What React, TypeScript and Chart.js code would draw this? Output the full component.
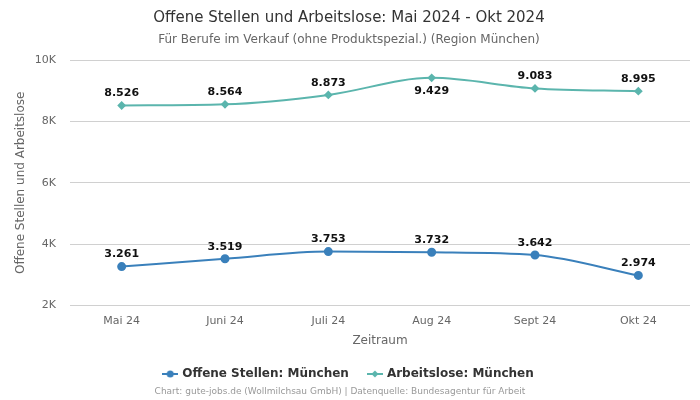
import React, { useEffect, useRef } from "react";
import { Chart, registerables } from "chart.js";

Chart.register(...registerables);

const categories = ["Mai 24", "Juni 24", "Juli 24", "Aug 24", "Sept 24", "Okt 24"];
const offeneStellen = [3261, 3519, 3753, 3732, 3642, 2974];
const arbeitslose = [8526, 8564, 8873, 9429, 9083, 8995];
const offeneLabels = ["3.261", "3.519", "3.753", "3.732", "3.642", "2.974"];
const arbeitsloseLabels = ["8.526", "8.564", "8.873", "9.429", "9.083", "8.995"];
const offeneLabelPos = ["top", "top", "top", "top", "top", "top"];
const arbeitsloseLabelPos = ["top", "top", "top", "bottom", "top", "top"];
const yTicks = [2000, 4000, 6000, 8000, 10000];

const BLUE = "#3a80bb";
const TEAL = "#5bb5ad";
const FONT = "'DejaVu Sans', sans-serif";

function legendIcon(color: string, style: string) {
  const c = document.createElement("canvas");
  c.width = 16;
  c.height = 10;
  const ctx = c.getContext("2d")!;
  ctx.strokeStyle = color;
  ctx.fillStyle = color;
  ctx.lineWidth = 2;
  ctx.beginPath();
  ctx.moveTo(0, 5);
  ctx.lineTo(16, 5);
  ctx.stroke();
  ctx.beginPath();
  if (style === "circle") {
    ctx.arc(8, 5, 3.5, 0, Math.PI * 2);
  } else {
    ctx.moveTo(8, 1.5);
    ctx.lineTo(11.5, 5);
    ctx.lineTo(8, 8.5);
    ctx.lineTo(4.5, 5);
    ctx.closePath();
  }
  ctx.fill();
  return c;
}

const labelPlugin = {
  id: "valueLabels",
  afterDatasetsDraw(chart: any) {
    const ctx = chart.ctx;
    ctx.save();
    ctx.font = `bold 11px ${FONT}`;
    ctx.fillStyle = "#111";
    ctx.textAlign = "center";
    ctx.textBaseline = "middle";
    const sets = [
      { labels: offeneLabels, pos: offeneLabelPos },
      { labels: arbeitsloseLabels, pos: arbeitsloseLabelPos },
    ];
    sets.forEach((s, di) => {
      const meta = chart.getDatasetMeta(di);
      meta.data.forEach((pt: any, i: number) => {
        const dy = s.pos[i] === "top" ? -12 : 13;
        ctx.fillText(s.labels[i], pt.x, pt.y + dy);
      });
    });
    ctx.restore();
  },
};

const footerPlugin = {
  id: "footerText",
  afterDraw(chart: any) {
    const ctx = chart.ctx;
    ctx.save();
    ctx.font = `9px ${FONT}`;
    ctx.fillStyle = "#999";
    ctx.textAlign = "center";
    ctx.textBaseline = "middle";
    ctx.fillText(
      "Chart: gute-jobs.de (Wollmilchsau GmbH) | Datenquelle: Bundesagentur für Arbeit",
      chart.width / 2 - 10,
      392
    );
    ctx.restore();
  },
};

export default function App() {
  const ref = useRef<HTMLCanvasElement>(null);
  useEffect(() => {
    document.body.style.margin = "0";
    Chart.defaults.font.family = FONT;
    const chart = new Chart(ref.current!, {
      type: "line",
      data: {
        labels: categories,
        datasets: [
          {
            label: "Offene Stellen: München",
            data: offeneStellen,
            borderColor: BLUE,
            backgroundColor: BLUE,
            borderWidth: 2,
            pointStyle: "circle",
            pointRadius: 3.5,
            pointHoverRadius: 3.5,
            cubicInterpolationMode: "monotone",
          },
          {
            label: "Arbeitslose: München",
            data: arbeitslose,
            borderColor: TEAL,
            backgroundColor: TEAL,
            borderWidth: 2,
            pointStyle: "rectRot",
            pointRadius: 3,
            pointHoverRadius: 3,
            cubicInterpolationMode: "monotone",
          },
        ],
      },
      options: {
        animation: false,
        responsive: false,
        layout: { padding: { right: 10, bottom: 10, left: 8 } },
        plugins: {
          title: {
            display: true,
            text: "Offene Stellen und Arbeitslose: Mai 2024 - Okt 2024",
            color: "#333",
            font: { size: 15, weight: "normal" },
            padding: { top: 9, bottom: 4 },
          },
          subtitle: {
            display: true,
            text: "Für Berufe im Verkauf (ohne Produktspezial.) (Region München)",
            color: "#666",
            font: { size: 12 },
            padding: { top: 2, bottom: 13 },
          },
          legend: {
            position: "bottom",
            labels: {
              color: "#333",
              font: { size: 12, weight: "bold" },
              usePointStyle: true,
              padding: 20,
              generateLabels: () => [
                {
                  text: "Offene Stellen: München",
                  pointStyle: legendIcon(BLUE, "circle"),
                  fillStyle: BLUE,
                  strokeStyle: BLUE,
                  fontColor: "#333",
                  datasetIndex: 0,
                  lineWidth: 0,
                } as any,
                {
                  text: "Arbeitslose: München",
                  pointStyle: legendIcon(TEAL, "diamond"),
                  fillStyle: TEAL,
                  strokeStyle: TEAL,
                  fontColor: "#333",
                  datasetIndex: 1,
                  lineWidth: 0,
                } as any,
              ],
            },
          },
          tooltip: { enabled: false },
        },
        scales: {
          x: {
            offset: true,
            grid: { display: false, drawTicks: false },
            border: { display: false },
            ticks: { color: "#666", font: { size: 11 }, padding: 9 },
            afterFit: (axis: any) => {
              axis.height -= 2;
            },
            title: {
              display: true,
              text: "Zeitraum",
              color: "#666",
              font: { size: 12, lineHeight: 1 },
              padding: { top: 0, bottom: 1.6 },
            },
          },
          y: {
            min: 2000,
            max: 10000,
            afterBuildTicks: (axis: any) => {
              axis.ticks = yTicks.map((v) => ({ value: v }));
            },
            afterFit: (axis: any) => {
              axis.width = 62;
            },
            grid: { color: "#d0d0d0", drawTicks: false },
            border: { display: false },
            ticks: {
              color: "#666",
              font: { size: 11 },
              padding: 14,
              callback: (v: any) => `${Number(v) / 1000}K`,
            },
            title: {
              display: true,
              text: "Offene Stellen und Arbeitslose",
              color: "#666",
              font: { size: 12 },
              padding: { top: 6, bottom: 4 },
            },
          },
        },
      },
      plugins: [labelPlugin, footerPlugin],
    } as any);
    return () => chart.destroy();
  }, []);
  return <canvas ref={ref} width={700} height={400} />;
}
